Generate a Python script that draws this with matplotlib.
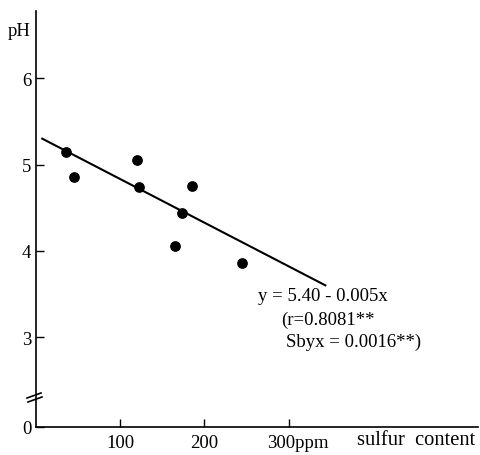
import matplotlib
matplotlib.use("Agg")
import matplotlib.pyplot as plt
from matplotlib.lines import Line2D

# data
sulfur_ppm = [36, 45, 120, 123, 185, 173, 165, 244]
ph_values = [5.15, 4.85, 5.05, 4.74, 4.75, 4.44, 4.06, 3.86]
fit_x = [8, 343]
fit_y = [5.30, 3.60]
x_ticks = [100, 200, 300]
x_tick_labels = ["100", "200", ""]
y_ticks = [3, 4, 5, 6]
y_tick_labels = ["3", "4", "5", "6"]

plt.rcParams['font.family'] = ['Liberation Serif', 'DejaVu Serif']
FS = 13.5

fig = plt.figure(figsize=(4.8, 4.56), dpi=100)
ax = fig.add_axes([35.5/480, (456-428)/456, (478-35.5)/480, (428-12)/456])

ymin = 3 - 90/86.33
ax.set_xlim(0, 523.7)
ax.set_ylim(ymin, 6.78)

ax.scatter(sulfur_ppm, ph_values, s=45, color='black', zorder=3)
ax.plot(fit_x, fit_y, color='black', lw=1.5)

ax.spines['top'].set_visible(False)
ax.spines['right'].set_visible(False)
for s in ['left', 'bottom']:
    ax.spines[s].set_linewidth(1.2)

ax.set_xticks(x_ticks)
ax.set_xticklabels(x_tick_labels, fontsize=FS)
ax.set_yticks(y_ticks + [ymin])
ax.set_yticklabels(y_tick_labels + ["0"], fontsize=FS)
ax.tick_params(axis='both', direction='in', length=6, width=1, pad=3)
ax.tick_params(axis='x', pad=5)

ax.annotate("300ppm", xy=(300, 0), xycoords=('data', 'axes fraction'),
            xytext=(-22, -7), textcoords='offset pixels',
            ha='left', va='top', fontsize=FS)

fig.text(357/480, 1 - 441/456, "sulfur  content", ha='left', va='center', fontsize=14.8)
fig.text(19/480, 1 - 31/456, "pH", ha='center', va='center', fontsize=FS)

ax.text(258/480, 1 - 297/456, "y = 5.40 - 0.005x", transform=fig.transFigure,
        ha='left', va='center', fontsize=FS)
ax.text(281/480, 1 - 320/456, "(r=0.8081**", transform=fig.transFigure,
        ha='left', va='center', fontsize=FS)
ax.text(286/480, 1 - 342/456, "Sbyx = 0.0016**)", transform=fig.transFigure,
        ha='left', va='center', fontsize=FS)

# axis break marks
for (x0, y0, x1, y1) in [(27, 399, 41, 394), (28, 403, 42, 398)]:
    fig.add_artist(Line2D([x0/480, x1/480], [1 - y0/456, 1 - y1/456],
                          color='black', lw=1.2, transform=fig.transFigure))

fig.savefig("out.png", dpi=100)
